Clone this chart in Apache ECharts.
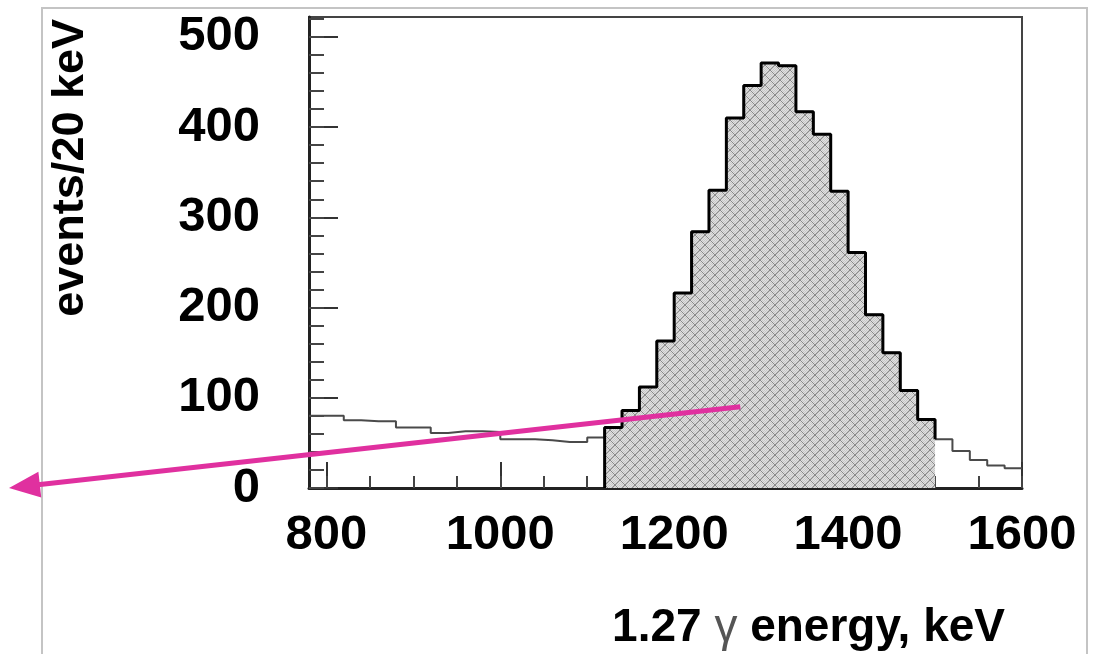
<!DOCTYPE html>
<html>
<head>
<meta charset="utf-8">
<script src="https://cdn.jsdelivr.net/npm/echarts@6/dist/echarts.min.js"></script>
<style>
html,body{margin:0;padding:0;background:#fff;}
#c{width:1095px;height:654px;}
</style>
</head>
<body>
<div id="c"></div>
<script>
// ---- data ----
const binWidth = 20;
const binStarts = [780,800,820,840,860,880,900,920,940,960,980,1000,1020,1040,1060,1080,1100,1120,1140,1160,1180,1200,1220,1240,1260,1280,1300,1320,1340,1360,1380,1400,1420,1440,1460,1480,1500,1520,1540,1560,1580];
const counts    = [80,80,75,74,74,67,67,61,63,63,62,54,54,53,51,51,56,67,86,112,163,216,284,330,410,446,471,468,417,392,329,261,192,150,108,76,54,41,31,25,22];
const shadedFrom = 1120;
const shadedTo = 1500;
const xTickLabels = [800,1000,1200,1400,1600];
const xMinorTicks = [800,850,900,950,1000,1050,1100,1150,1200,1250,1300,1350,1400,1450,1500,1550,1600];
const yTickLabels = [0,100,200,300,400,500];
const yMinorTicks = [0,20,40,60,80,100,120,140,160,180,200,220,240,260,280,300,320,340,360,380,400,420,440,460,480,500,520];
const xRange = [780, 1600];
const yRange = [0, 522];
const arrowStart = [1276, 90];
const arrowEnd = [435, 0];
const xTitle = '1.27 {g|γ} energy, keV';
const yTitle = 'events/20 keV';

// ---- build series data ----
const lineData = binStarts.map((x, i) => [x, counts[i]]);
lineData.push([binStarts[binStarts.length - 1] + binWidth, counts[counts.length - 1]]);

const shadedData = [[shadedFrom, 0]];
binStarts.forEach((x, i) => { if (x >= shadedFrom && x < shadedTo) shadedData.push([x, counts[i]]); });
shadedData.push([shadedTo, counts[binStarts.indexOf(shadedTo)]]);

function makePattern() {
  const c = document.createElement('canvas');
  c.width = 10; c.height = 10;
  const g = c.getContext('2d');
  g.fillStyle = '#e0e0e0'; g.fillRect(0, 0, 10, 10);
  g.fillStyle = '#c8c8c8';
  for (let y = 0; y < 10; y++) for (let x = 0; x < 10; x++) if ((x + y) % 2 === 0) g.fillRect(x, y, 1, 1);
  g.fillStyle = '#8a8a8a';
  for (let i = 0; i < 10; i++) { g.fillRect(i, i, 1, 1); g.fillRect(9 - i, i, 1, 1); }
  return c;
}

const FONT = 'Liberation Sans, Arial, Helvetica, sans-serif';
const chart = echarts.init(document.getElementById('c'), null, {renderer: 'canvas'});
const plain = v => String(v);

const option = {
  animation: false,
  backgroundColor: '#fff',
  grid: {left: 309, right: 73, top: 17, bottom: 166, show: true, borderColor: '#444', borderWidth: 2, containLabel: false},
  xAxis: [{
    type: 'value', min: xRange[0], max: xRange[1], position: 'bottom',
    axisLine: {show: true, onZero: false, lineStyle: {color: '#222', width: 3}},
    axisTick: {show: true, inside: true, length: 26, customValues: xTickLabels, lineStyle: {color: '#333', width: 2}},
    axisLabel: {show: true, customValues: xTickLabels, formatter: plain, fontFamily: FONT, fontWeight: 'bold', fontSize: 49, color: '#000', margin: 23},
    splitLine: {show: false},
    name: xTitle, nameLocation: 'end', nameGap: -17, nameMoveOverlap: false,
    nameTextStyle: {fontFamily: FONT, fontWeight: 'bold', fontSize: 46, color: '#000', align: 'right', verticalAlign: 'top', padding: [117, 0, 0, 0],
      rich: {g: {fontFamily: FONT, fontWeight: 'normal', fontSize: 46, color: '#555'}}}
  }, {
    type: 'value', min: xRange[0], max: xRange[1], position: 'bottom',
    axisLine: {show: false, onZero: false},
    axisTick: {show: true, inside: true, length: 12, customValues: xMinorTicks, lineStyle: {color: '#444', width: 2}},
    axisLabel: {show: false}, splitLine: {show: false}
  }],
  yAxis: [{
    type: 'value', min: yRange[0], max: yRange[1], position: 'left',
    axisLine: {show: true, onZero: false, lineStyle: {color: '#222', width: 3}},
    axisTick: {show: true, inside: true, length: 29, customValues: yTickLabels, lineStyle: {color: '#333', width: 2}},
    axisLabel: {show: true, customValues: yTickLabels, formatter: plain, fontFamily: FONT, fontWeight: 'bold', fontSize: 49, color: '#000', margin: 49},
    splitLine: {show: false},
    name: yTitle, nameLocation: 'end', nameGap: -2, nameRotate: 90, nameMoveOverlap: false,
    nameTextStyle: {fontFamily: FONT, fontWeight: 'bold', fontSize: 45, color: '#000', align: 'right', verticalAlign: 'bottom', padding: [0, 0, 216, 0]}
  }, {
    type: 'value', min: yRange[0], max: yRange[1], position: 'left',
    axisLine: {show: false, onZero: false},
    axisTick: {show: true, inside: true, length: 15, customValues: yMinorTicks, lineStyle: {color: '#444', width: 2}},
    axisLabel: {show: false}, splitLine: {show: false}
  }],
  series: [{
    type: 'line', step: 'end', xAxisIndex: 0, yAxisIndex: 0, data: lineData,
    showSymbol: false, symbol: 'none', z: 2,
    lineStyle: {color: '#4a4a4a', width: 2}
  }, {
    type: 'line', step: 'end', xAxisIndex: 0, yAxisIndex: 0, data: shadedData,
    showSymbol: false, symbol: 'none', z: 3,
    lineStyle: {color: '#000', width: 3},
    areaStyle: {color: {image: makePattern(), repeat: 'repeat'}, opacity: 1}
  }]
};
chart.setOption(option);

// annotation arrow, positioned through the chart's own scales
const p0 = chart.convertToPixel({xAxisIndex: 0, yAxisIndex: 0}, arrowStart);
const p1 = chart.convertToPixel({xAxisIndex: 0, yAxisIndex: 0}, arrowEnd);
const dx = p1[0] - p0[0], dy = p1[1] - p0[1];
const len = Math.sqrt(dx * dx + dy * dy);
const ux = dx / len, uy = dy / len;
const headLen = 31, headHalf = 13;
const bx = p1[0] - ux * headLen, by = p1[1] - uy * headLen;
const nx = -uy, ny = ux;
const PINK = '#e0309f';
chart.setOption({
  graphic: [
    {type: 'rect', z: -1, silent: true, shape: {x: 42, y: 8, width: 1045, height: 700}, style: {fill: 'none', stroke: '#c4c4c4', lineWidth: 2}},
    {type: 'line', z: 100, silent: true, shape: {x1: p0[0], y1: p0[1], x2: bx + ux * 2, y2: by + uy * 2}, style: {stroke: PINK, lineWidth: 5}},
    {type: 'polygon', z: 100, silent: true, shape: {points: [[p1[0], p1[1]], [bx + nx * headHalf, by + ny * headHalf], [bx - nx * headHalf, by - ny * headHalf]]}, style: {fill: PINK}}
  ]
});
</script>
</body>
</html>
